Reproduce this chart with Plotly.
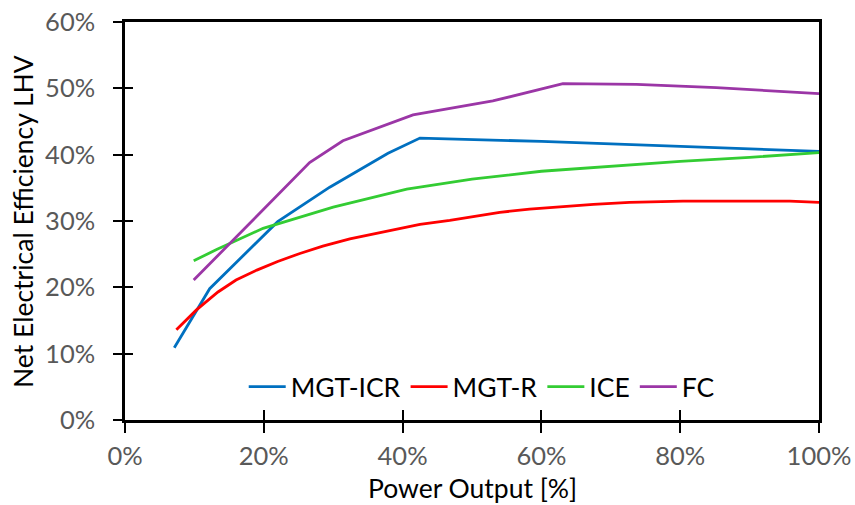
import plotly.graph_objects as go

# Power output [%] and net electrical efficiency LHV [%]
mgt_icr_x = [7.1, 12.2, 22.0, 29.5, 37.9, 42.5, 60.0, 80.0, 100.0]
mgt_icr_y = [10.9, 19.8, 29.9, 35.1, 40.2, 42.5, 42.0, 41.3, 40.5]

mgt_r_x = [7.4, 10.3, 13.4, 16.0, 19.0, 22.0, 25.2, 28.5, 32.4, 35.5, 38.6, 42.5, 46.8, 50.5, 54.0, 58.3, 63.0, 67.5, 72.7, 80.4, 88.0, 95.8, 100.0]
mgt_r_y = [13.6, 16.6, 19.3, 21.1, 22.6, 23.9, 25.1, 26.2, 27.3, 28.0, 28.7, 29.5, 30.1, 30.7, 31.3, 31.8, 32.2, 32.5, 32.8, 33.0, 33.0, 33.0, 32.8]

ice_x = [9.9, 13.2, 19.9, 30.0, 40.6, 50.0, 60.0, 70.0, 80.0, 90.0, 100.0]
ice_y = [24.0, 25.7, 28.9, 32.1, 34.8, 36.3, 37.5, 38.3, 39.0, 39.6, 40.3]

fc_x = [9.9, 26.6, 31.4, 41.5, 53.0, 63.1, 73.7, 85.2, 100.0]
fc_y = [21.1, 38.8, 42.1, 46.0, 48.1, 50.7, 50.6, 50.1, 49.2]

series = [
    ("MGT-ICR", mgt_icr_x, mgt_icr_y, "#0070C0"),
    ("MGT-R", mgt_r_x, mgt_r_y, "#FF0000"),
    ("ICE", ice_x, ice_y, "#33CC33"),
    ("FC", fc_x, fc_y, "#9B36A6"),
]

x_ticks = [0, 20, 40, 60, 80, 100]
y_ticks = [0, 10, 20, 30, 40, 50, 60]

FONT = "Lato, Carlito, Calibri, sans-serif"

fig = go.Figure()
for name, xs, ys, col in series:
    fig.add_trace(go.Scatter(x=xs, y=ys, mode="lines", name=name,
                             line=dict(color=col, width=2.8)))

# dummy trace on overlay axes to carry inside ticks
fig.add_trace(go.Scatter(x=[0], y=[0], xaxis="x2", yaxis="y2", mode="markers",
                         marker=dict(opacity=0), showlegend=False, hoverinfo="skip"))

fig.update_layout(
    width=855, height=505,
    paper_bgcolor="white", plot_bgcolor="white",
    margin=dict(l=125, r=35.5, t=21.7, b=85, autoexpand=False),
    font=dict(family=FONT, color="black"),
    showlegend=True,
    legend=dict(orientation="h", x=0.514, xanchor="center", y=0.083, yanchor="middle",
                font=dict(size=26.5, color="black"), bgcolor="rgba(0,0,0,0)",
                itemwidth=37, tracegroupgap=0),
    xaxis=dict(range=[0, 100], tickvals=x_ticks, ticktext=[f"{v}%" for v in x_ticks],
               showgrid=False, zeroline=False, showline=True, linecolor="black", linewidth=2.5,
               mirror=True, ticks="outside", ticklen=10, tickwidth=1.5, tickcolor="black",
               tickfont=dict(size=25.5, color="#595959", family=FONT),
               ticklabelstandoff=2, ticklabeloverflow="allow", automargin=False),
    yaxis=dict(range=[0, 60], tickvals=y_ticks, ticktext=[f"{v}%" for v in y_ticks],
               showgrid=False, zeroline=False, showline=True, linecolor="black", linewidth=2.5,
               mirror=True, ticks="outside", ticklen=9, tickwidth=1.5, tickcolor="black",
               tickfont=dict(size=25.5, color="#595959", family=FONT),
               ticklabelstandoff=13, ticklabeloverflow="allow", automargin=False),
    xaxis2=dict(range=[0, 100], overlaying="x", tickvals=x_ticks, showticklabels=False,
                ticks="inside", ticklen=10, tickwidth=1.5, tickcolor="black",
                showgrid=False, zeroline=False, showline=False, automargin=False),
    yaxis2=dict(range=[0, 60], overlaying="y", tickvals=y_ticks, showticklabels=False,
                ticks="inside", ticklen=8, tickwidth=1.5, tickcolor="black",
                showgrid=False, zeroline=False, showline=False, automargin=False),
    annotations=[
        dict(text="Power Output [%]", xref="paper", yref="paper", x=0.5, y=-0.170,
             xanchor="center", yanchor="middle", showarrow=False,
             font=dict(size=26.5, color="black", family=FONT)),
        dict(text="Net Electrical Efficiency LHV", xref="paper", yref="paper", x=-0.147, y=0.5,
             xanchor="center", yanchor="middle", textangle=-90, showarrow=False,
             font=dict(size=26.5, color="black", family=FONT)),
    ],
)

fig.write_html("out.html", config={"displayModeBar": False},
               post_script="document.body.style.margin='0';document.body.style.overflow='hidden';")
